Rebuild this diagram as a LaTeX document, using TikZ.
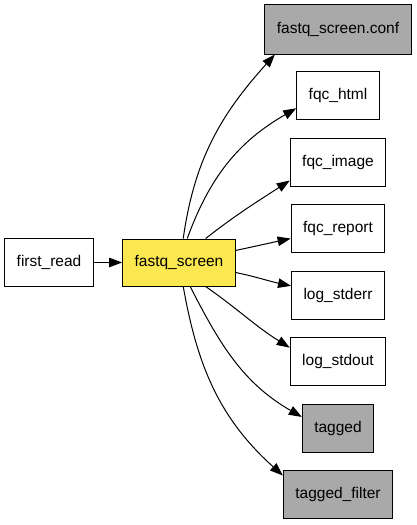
\documentclass[tikz,border=0pt]{standalone}
\usepackage{fontspec}
\setmainfont{Liberation Sans}
\usetikzlibrary{arrows.meta}
\definecolor{fileyellow}{HTML}{FBE74F}
\definecolor{filegrey}{HTML}{A9A9A9}
\tikzstyle{file} = [rectangle, minimum height=48pt, inner xsep=12pt, inner ysep=0pt,
text centered, draw=black, line width=1pt, fill=white, font=\fontsize{15.5}{18}\selectfont]
\tikzstyle{task} = [file, fill=fileyellow]
\tikzstyle{output} = [file, fill=filegrey]
\tikzstyle{arrow} = [line width=1pt, -{Triangle[length=13pt,width=9.5pt]}]
\begin{document}
\begin{tikzpicture}[x=1pt, y=1pt, node distance = 66.5pt]
\useasboundingbox (0,0) rectangle (417,-525);

% ------------------------- nodes -------------------------
% ----- producer
\node(screen)[task, minimum height=47pt] at (179,-262.5) {fastq\_screen};
\node(read)[file, left of=screen, xshift=-63.5pt] {first\_read};
% ----- outputs
\node(conf)[output, minimum height=50pt] at (338,-29) {fastq\_screen.conf};
\node(html)[file, below of=conf] {fqc\_html};
\node(image)[file, below of=html] {fqc\_image};
\node(report)[file, below of=image] {fqc\_report};
\node(stderr)[file, below of=report] {log\_stderr};
\node(stdout)[file, below of=stderr] {log\_stdout};
\node(tagged)[output, below of=stdout] {tagged};
\node(filter)[output, below of=tagged] {tagged\_filter};

% ------------------------- connections -------------------------
\draw[arrow](read)--(screen);
\draw[arrow](screen.80) to[out=82, in=228] (conf.202);
\draw[arrow](screen.71) to[out=70, in=210] (html.197);
\draw[arrow](screen.42) to[out=38, in=213] (image.201);
\draw[arrow](screen.12) to[out=12, in=192] (report.192);
\draw[arrow](screen.-10) to[out=-12, in=168] (stderr.169);
\draw[arrow](screen.-42) to[out=-35, in=148] (stdout.164);
\draw[arrow](screen.-65) to[out=-63, in=150] (tagged.163);
\draw[arrow](screen.-80) to[out=-80, in=138] (filter.161);
\end{tikzpicture}
\end{document}
